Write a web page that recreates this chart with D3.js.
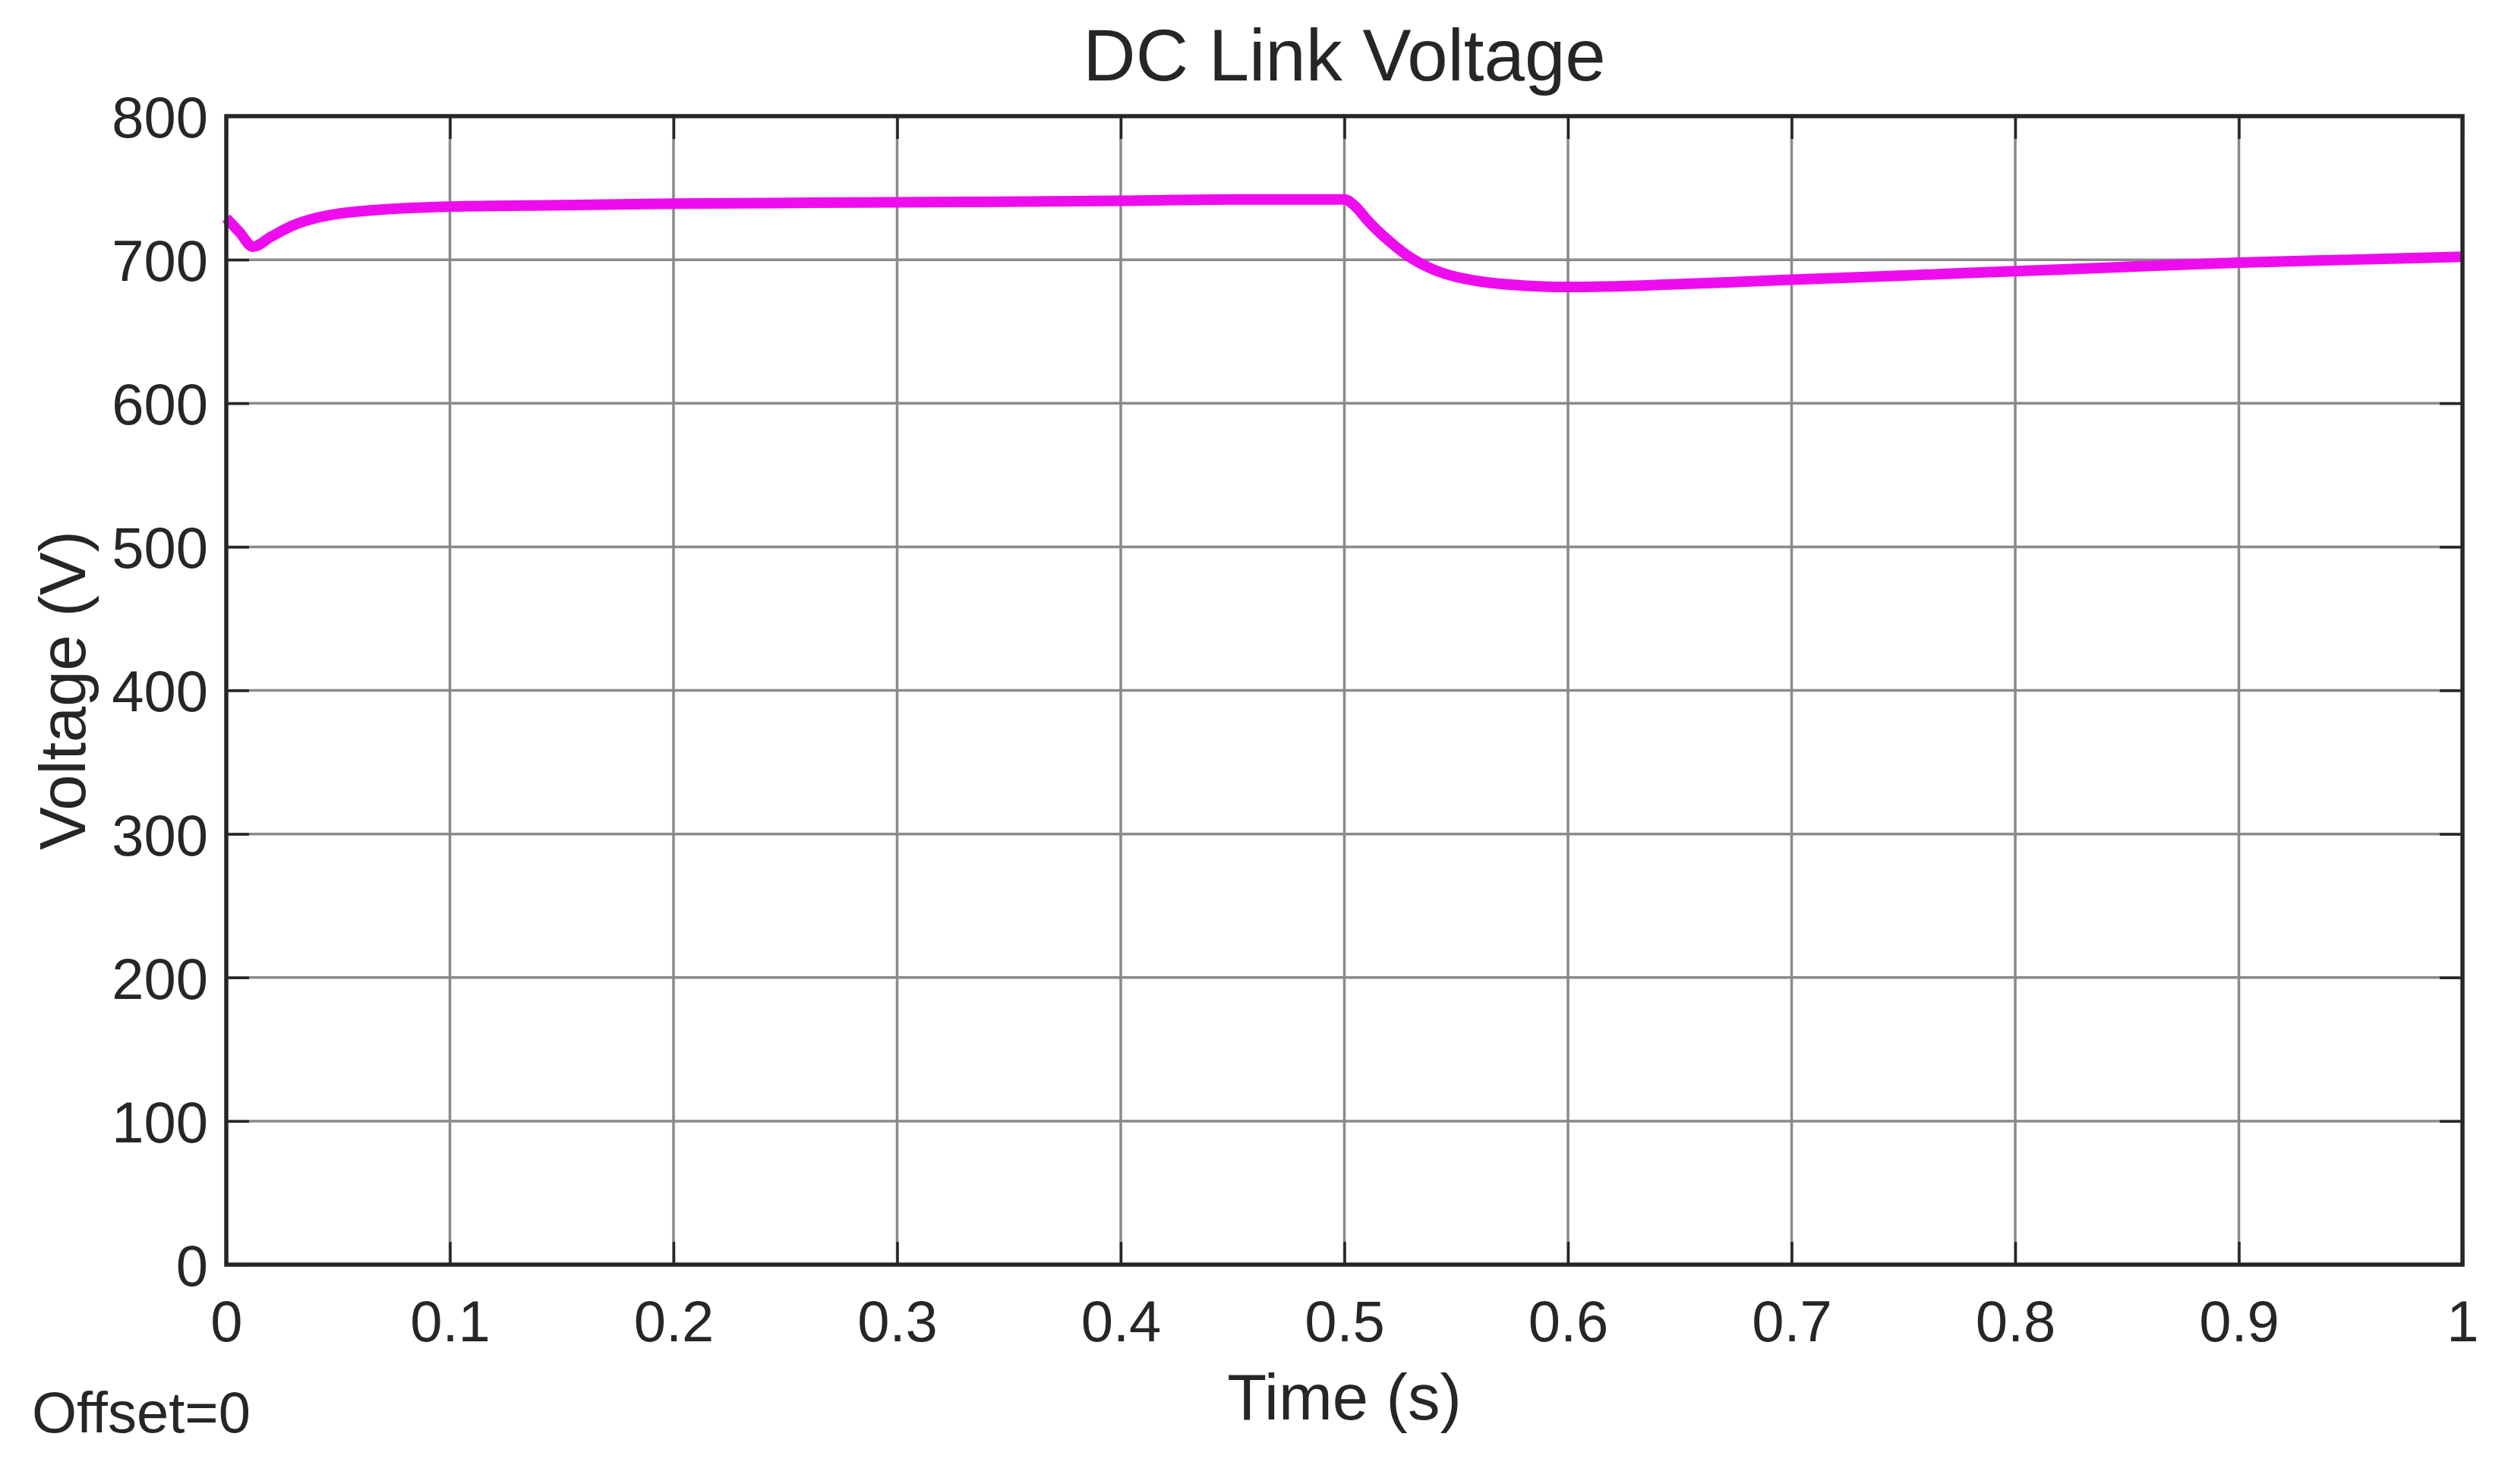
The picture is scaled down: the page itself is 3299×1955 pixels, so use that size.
<!DOCTYPE html>
<html>
<head>
<meta charset="utf-8">
<script src="https://cdn.jsdelivr.net/npm/d3@7"></script>
<style>
  html, body { margin: 0; padding: 0; background: #fff; }
  svg { display: block; }
  text { font-family: "Liberation Sans", Arial, sans-serif; fill: #262626; }
</style>
</head>
<body>
<script>
// ---- data ----
const timeValues = [0, 0.006, 0.012, 0.02, 0.03, 0.04, 0.05, 0.07, 0.1, 0.15, 0.2, 0.3, 0.4, 0.45, 0.5,
  0.505, 0.51, 0.52, 0.53, 0.54, 0.55, 0.56, 0.58, 0.6, 0.65, 0.7, 0.75, 0.8, 0.85, 0.9, 0.95, 1.0];
const voltageValues = [729, 719, 709, 716, 724, 729, 732, 735, 737, 738, 739, 740, 741, 742, 742,
  737, 728, 713, 701, 693, 688, 685, 682, 681, 683, 686, 689, 692, 695, 698, 700, 702];
const xTicks = [0, 0.1, 0.2, 0.3, 0.4, 0.5, 0.6, 0.7, 0.8, 0.9, 1];
const xTickLabels = ["0", "0.1", "0.2", "0.3", "0.4", "0.5", "0.6", "0.7", "0.8", "0.9", "1"];
const yTicks = [0, 100, 200, 300, 400, 500, 600, 700, 800];
const titleText = "DC Link Voltage";
const xLabel = "Time (s)";
const yLabel = "Voltage (V)";
const offsetText = "Offset=0";

// ---- layout ----
const W = 3299, H = 1955;
const m = { left: 298, right: 3243, top: 153, bottom: 1666 };

const svg = d3.select("body").append("svg").attr("width", W).attr("height", H);

const x = d3.scaleLinear().domain([0, 1]).range([m.left, m.right]);
const y = d3.scaleLinear().domain([0, 800]).range([m.bottom, m.top]);

// grid
const grid = svg.append("g");
grid.selectAll(".vg").data(xTicks.slice(1, -1)).join("line")
  .attr("x1", d => x(d)).attr("x2", d => x(d))
  .attr("y1", m.top).attr("y2", m.bottom)
  .attr("stroke", "#8a8a8a").attr("stroke-width", 3.5);
grid.selectAll(".hg").data(yTicks.slice(1, -1)).join("line")
  .attr("x1", m.left).attr("x2", m.right)
  .attr("y1", d => y(d)).attr("y2", d => y(d))
  .attr("stroke", "#8a8a8a").attr("stroke-width", 3.5);

// axes (inward ticks, MATLAB style)
const tickLen = 30;
const xAxisB = d3.axisBottom(x).tickValues(xTicks).tickFormat((d, i) => xTickLabels[i])
  .tickSizeInner(-tickLen).tickSizeOuter(0).tickPadding(tickLen + 56);
const gxB = svg.append("g").attr("transform", `translate(0,${m.bottom})`).call(xAxisB);
const xAxisT = d3.axisTop(x).tickValues(xTicks).tickFormat("").tickSizeInner(-tickLen).tickSizeOuter(0);
const gxT = svg.append("g").attr("transform", `translate(0,${m.top})`).call(xAxisT);
const yAxisL = d3.axisLeft(y).tickValues(yTicks).tickFormat(d3.format("d"))
  .tickSizeInner(-tickLen).tickSizeOuter(0).tickPadding(tickLen - 6);
const gyL = svg.append("g").attr("transform", `translate(${m.left},0)`).call(yAxisL);
const yAxisR = d3.axisRight(y).tickValues(yTicks).tickFormat("").tickSizeInner(-tickLen).tickSizeOuter(0);
const gyR = svg.append("g").attr("transform", `translate(${m.right},0)`).call(yAxisR);

[gxB, gxT, gyL, gyR].forEach(g => {
  g.select(".domain").remove();
  g.selectAll(".tick line").attr("stroke", "#262626").attr("stroke-width", 3.5);
  g.selectAll(".tick text").attr("font-size", 76).attr("fill", "#262626")
    .style("font-family", "'Liberation Sans', Arial, sans-serif");
});
gxB.selectAll(".tick text").attr("dy", "0.2em");
gyL.selectAll(".tick text").attr("dy", "0.36em");

// data line
const line = d3.line().x((d, i) => x(timeValues[i])).y(d => y(d)).curve(d3.curveMonotoneX);
svg.append("path").datum(voltageValues)
  .attr("d", line)
  .attr("fill", "none")
  .attr("stroke", "#ee0cee")
  .attr("stroke-width", 14)
  .attr("stroke-linejoin", "round")
  .attr("stroke-linecap", "butt");

// frame
svg.append("rect")
  .attr("x", m.left).attr("y", m.top)
  .attr("width", m.right - m.left).attr("height", m.bottom - m.top)
  .attr("fill", "none").attr("stroke", "#262626").attr("stroke-width", 5.5);

// texts
svg.append("text").attr("x", (m.left + m.right) / 2).attr("y", 106)
  .attr("text-anchor", "middle").attr("font-size", 96).attr("fill", "#111").text(titleText);
svg.append("text").attr("x", (m.left + m.right) / 2).attr("y", 1870)
  .attr("text-anchor", "middle").attr("font-size", 85).text(xLabel);
svg.append("text")
  .attr("transform", `translate(112,${(m.top + m.bottom) / 2}) rotate(-90)`)
  .attr("text-anchor", "middle").attr("font-size", 85).text(yLabel);
svg.append("text").attr("x", 42).attr("y", 1887)
  .attr("text-anchor", "start").attr("font-size", 76).text(offsetText);
</script>
</body>
</html>
